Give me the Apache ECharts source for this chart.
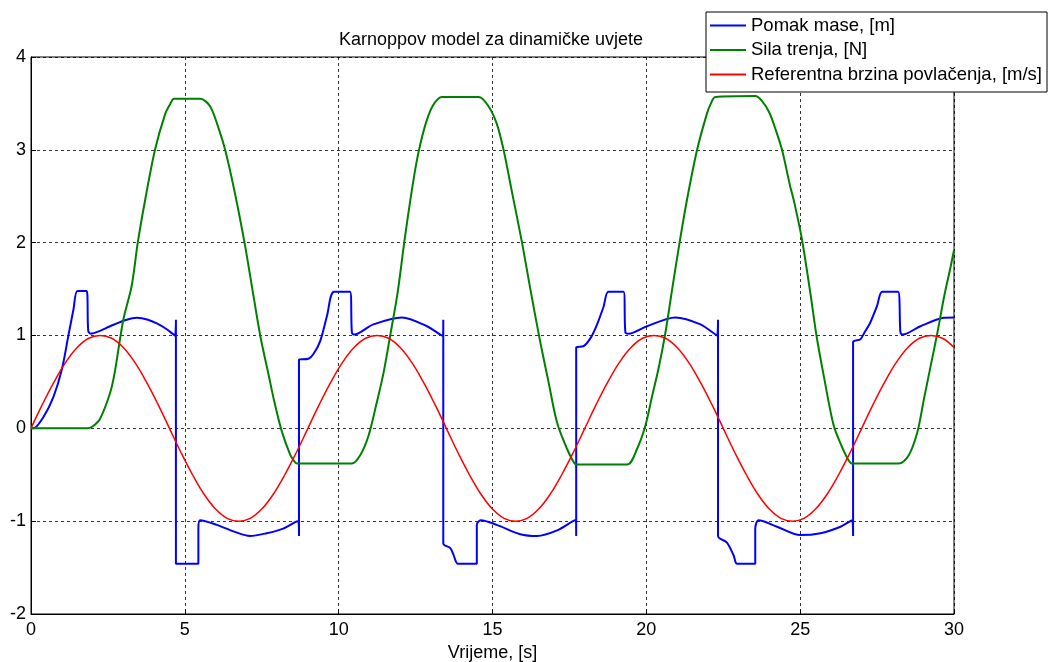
<!DOCTYPE html>
<html>
<head>
<meta charset="utf-8">
<script src="https://cdn.jsdelivr.net/npm/echarts@6/dist/echarts.min.js"></script>
<style>
html,body{margin:0;padding:0;background:#fff;}
#chart{width:1053px;height:662px;}
</style>
</head>
<body>
<div id="chart"></div>
<script>
// ---- data ----
const titleText = 'Karnoppov model za dinamičke uvjete';
const xAxisName = 'Vrijeme, [s]';
const seriesNames = ['Pomak mase, [m]', 'Sila trenja, [N]', 'Referentna brzina povlačenja, [m/s]'];

// Pomak mase (blue)
const blueT = [0,0.08,0.4,0.73,1.0,1.21,1.38,1.51,1.81,1.86,1.94,2.24,2.57,3.11,3.44,3.8,4.09,4.4,4.68,4.71,4.71,5.44,5.44,5.5,6.04,6.58,7.12,7.66,8.2,8.66,8.71,8.71,9.02,9.18,9.4,9.62,9.85,10.37,10.43,10.5,11.13,12.06,12.87,13.36,13.4,13.4,13.63,13.73,13.88,14.49,14.49,14.62,15.14,15.9,16.45,17.1,17.68,17.72,17.72,17.96,18.2,18.4,18.61,18.77,19.26,19.32,19.42,20.02,20.94,21.76,22.3,22.33,22.33,22.62,22.84,22.95,23.54,23.54,23.65,24.25,25.0,25.66,26.31,26.69,26.72,26.72,26.96,27.07,27.28,27.5,27.67,28.18,28.26,28.33,28.91,29.67,30];
const blueV = [0,0,0.12,0.34,0.63,0.99,1.28,1.48,1.48,1.05,1.02,1.05,1.1,1.17,1.19,1.17,1.13,1.07,1.0,1.17,-1.46,-1.46,-1.08,-0.99,-1.04,-1.11,-1.16,-1.13,-1.08,-1.0,-1.16,0.74,0.75,0.8,0.94,1.21,1.47,1.47,1.03,1.01,1.12,1.195,1.1,1.0,1.17,-1.24,-1.29,-1.36,-1.46,-1.46,-1.04,-0.99,-1.04,-1.14,-1.16,-1.1,-0.99,-1.16,0.87,0.885,0.98,1.12,1.31,1.47,1.47,1.03,1.02,1.1,1.195,1.12,1.0,1.17,-1.16,-1.23,-1.37,-1.46,-1.46,-1.08,-0.99,-1.06,-1.15,-1.13,-1.06,-0.99,-1.16,0.93,0.96,1.02,1.14,1.32,1.47,1.47,1.03,1.01,1.1,1.19,1.195];

// Sila trenja (green)
const greenT = [0,1.82,2.0,2.24,2.57,2.72,3.0,3.27,3.47,3.71,4.03,4.36,4.52,4.65,5.5,5.82,6.09,6.31,6.63,6.94,7.18,7.45,7.72,7.9,8.15,8.42,8.55,8.65,10.43,10.7,10.97,11.24,11.46,11.67,11.92,12.13,12.33,12.55,12.8,13.05,13.36,14.55,14.87,15.14,15.36,15.63,15.96,16.23,16.54,16.82,17.1,17.42,17.6,17.72,19.37,19.7,19.97,20.19,20.4,20.62,20.84,21.08,21.32,21.65,21.97,22.1,22.24,23.54,23.75,24.0,24.2,24.41,24.68,24.79,25.05,25.33,25.53,25.77,26.09,26.36,26.55,26.69,28.2,28.53,28.81,29.02,29.24,29.46,29.68,29.89,30];
const greenV = [0,0,0.02,0.1,0.38,0.6,1.17,1.53,2.0,2.46,3.0,3.385,3.49,3.55,3.55,3.47,3.24,3.0,2.53,2.0,1.53,1.0,0.58,0.3,-0.03,-0.28,-0.35,-0.38,-0.38,-0.29,-0.08,0.28,0.6,0.99,1.47,2.0,2.46,2.9,3.25,3.47,3.57,3.57,3.47,3.28,3.0,2.55,2.0,1.5,0.95,0.5,0.06,-0.22,-0.34,-0.39,-0.39,-0.22,0.03,0.35,0.65,1.03,1.5,2.0,2.46,3.0,3.39,3.5,3.57,3.58,3.53,3.4,3.22,3.0,2.6,2.46,2.05,1.46,1.0,0.56,0.03,-0.2,-0.33,-0.38,-0.38,-0.29,-0.04,0.31,0.67,1.03,1.42,1.74,1.92];

// Referentna brzina povlačenja (red)
const redT = [0,0.375,0.75,1.125,1.5,1.875,2.25,2.625,3,3.375,3.75,4.125,4.5,4.875,5.25,5.625,6,6.375,6.75,7.125,7.5,7.875,8.25,8.625,9,9.375,9.75,10.125,10.5,10.875,11.25,11.625,12,12.375,12.75,13.125,13.5,13.875,14.25,14.625,15,15.375,15.75,16.125,16.5,16.875,17.25,17.625,18,18.375,18.75,19.125,19.5,19.875,20.25,20.625,21,21.375,21.75,22.125,22.5,22.875,23.25,23.625,24,24.375,24.75,25.125,25.5,25.875,26.25,26.625,27,27.375,27.75,28.125,28.5,28.875,29.25,29.625,30];
const redV = [0,0.26,0.5,0.71,0.87,0.97,1,0.97,0.87,0.71,0.5,0.26,0,-0.26,-0.5,-0.71,-0.87,-0.97,-1,-0.97,-0.87,-0.71,-0.5,-0.26,
              0,0.26,0.5,0.71,0.87,0.97,1,0.97,0.87,0.71,0.5,0.26,0,-0.26,-0.5,-0.71,-0.87,-0.97,-1,-0.97,-0.87,-0.71,-0.5,-0.26,
              0,0.26,0.5,0.71,0.87,0.97,1,0.97,0.87,0.71,0.5,0.26,0,-0.26,-0.5,-0.71,-0.87,-0.97,-1,-0.97,-0.87,-0.71,-0.5,-0.26,
              0,0.26,0.5,0.71,0.87,0.97,1,0.97,0.87];

const xTicks = [0,5,10,15,20,25,30];
const yTicks = [-2,-1,0,1,2,3,4];

// ---- build chart ----
function zip(a,b){ return a.map((v,i)=>[v,b[i]]); }
const FONT = '"Liberation Sans", Arial, sans-serif';
const chart = echarts.init(document.getElementById('chart'), null, {renderer:'canvas'});
const gridLine = {show:true, lineStyle:{color:'#000', width:1, type:[3,3], opacity:0.8}};
chart.setOption({
  animation:false,
  backgroundColor:'#fff',
  title:{text:titleText, left:486, textAlign:'center', top:26,
    textStyle:{fontFamily:FONT, fontSize:18, fontWeight:'normal', color:'#000'}},
  legend:{
    orient:'vertical', left:706, top:12, padding:[4,5,8,4],
    backgroundColor:'#fff', borderColor:'#000', borderWidth:1,
    itemWidth:36, itemHeight:2, itemGap:5.5, icon:'rect',
    textStyle:{fontFamily:FONT, fontSize:18.5, color:'#000', lineHeight:18},
    data:seriesNames
  },
  grid:{left:31, right:99, top:57, bottom:48, outerBoundsMode:'none', containLabel:false,
    show:true, borderColor:'#000', borderWidth:1, backgroundColor:'transparent'},
  xAxis:{type:'value', min:xTicks[0], max:xTicks[xTicks.length-1], interval:5,
    name:xAxisName, nameLocation:'middle', nameGap:28,
    nameTextStyle:{fontFamily:FONT, fontSize:18, color:'#000'},
    axisLine:{show:true, onZero:false, lineStyle:{color:'#000'}},
    axisTick:{show:true, inside:true, length:5, lineStyle:{color:'#000'}},
    axisLabel:{fontFamily:FONT, fontSize:18, color:'#000', margin:7},
    splitLine:gridLine},
  yAxis:{type:'value', min:yTicks[0], max:yTicks[yTicks.length-1], interval:1,
    axisLine:{show:true, onZero:false, lineStyle:{color:'#000'}},
    axisTick:{show:true, inside:true, length:5, lineStyle:{color:'#000'}},
    axisLabel:{fontFamily:FONT, fontSize:18, color:'#000', margin:5},
    splitLine:gridLine},
  series:[
    {name:seriesNames[0], type:'line', data:zip(blueT,blueV), showSymbol:false, symbol:'none', smooth:0.3,
      lineStyle:{color:'#0000ff', width:2}, itemStyle:{color:'#0000ff'}, z:3},
    {name:seriesNames[1], type:'line', data:zip(greenT,greenV), showSymbol:false, symbol:'none', smooth:0.3,
      lineStyle:{color:'#008000', width:2}, itemStyle:{color:'#008000'}, z:3},
    {name:seriesNames[2], type:'line', data:zip(redT,redV), showSymbol:false, symbol:'none', smooth:0.4,
      lineStyle:{color:'#ff0000', width:1.5}, itemStyle:{color:'#ff0000'}, z:3}
  ]
});
</script>
</body>
</html>
